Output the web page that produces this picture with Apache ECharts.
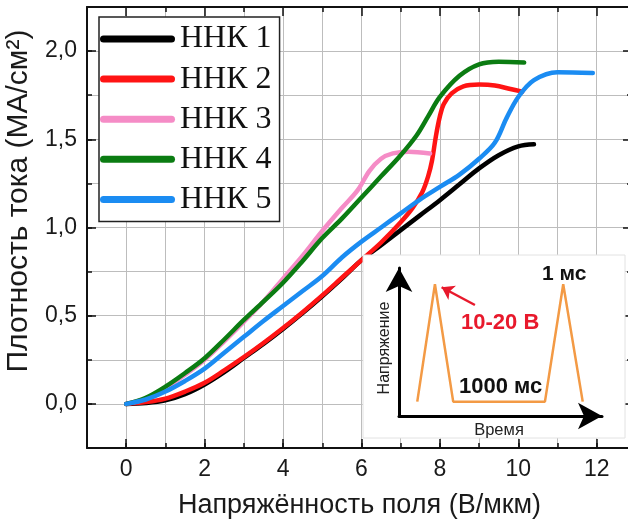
<!DOCTYPE html>
<html>
<head>
<meta charset="utf-8">
<script src="https://cdn.jsdelivr.net/npm/echarts@6/dist/echarts.min.js"></script>
<style>
  html, body { margin: 0; padding: 0; background: #fff; }
  #main { width: 628px; height: 523px; }
</style>
</head>
<body>
<div id="main"></div>
<script>
// образцы и цвета
const names = ['ННК 1', 'ННК 2', 'ННК 3', 'ННК 4', 'ННК 5'];
const colors = ['#000000', '#ff1414', '#f58cc6', '#0b7c12', '#1b8cf2'];

// [напряжённость, плотность тока]
const nnk1 = [[0,0],[0.5,0.005],[1,0.02],[1.5,0.055],[2,0.11],[2.5,0.18],[3,0.26],[3.5,0.34],[4,0.425],[4.5,0.515],[5,0.61],[5.5,0.71],[6,0.815],[6.5,0.90],[7,0.985],[7.5,1.07],[8,1.155],[8.5,1.245],[9,1.335],[9.5,1.41],[10,1.46],[10.4,1.472]];
const nnk2 = [[0,0],[0.5,0.01],[1,0.03],[1.5,0.07],[2,0.12],[2.5,0.19],[3,0.265],[3.5,0.345],[4,0.43],[4.5,0.52],[5,0.615],[5.5,0.715],[6,0.815],[6.5,0.915],[7,1.03],[7.3,1.11],[7.55,1.20],[7.7,1.29],[7.8,1.38],[7.9,1.52],[8,1.63],[8.1,1.70],[8.3,1.76],[8.6,1.80],[9,1.81],[9.4,1.805],[9.8,1.785],[10.1,1.77]];
const nnk3 = [[0,0],[0.5,0.03],[1,0.09],[1.5,0.165],[2,0.25],[2.5,0.355],[3,0.465],[3.5,0.58],[4,0.71],[4.5,0.84],[5,0.98],[5.5,1.11],[5.9,1.21],[6.2,1.32],[6.5,1.39],[6.8,1.42],[7.2,1.43],[7.75,1.42]];
const nnk4 = [[0,0],[0.5,0.035],[1,0.098],[1.5,0.175],[2,0.259],[2.5,0.365],[3,0.476],[3.5,0.58],[4,0.687],[4.5,0.81],[5,0.94],[5.5,1.05],[6,1.17],[6.5,1.29],[7,1.41],[7.4,1.52],[7.7,1.63],[8,1.74],[8.5,1.86],[9,1.925],[9.5,1.94],[10.15,1.935]];
const nnk5 = [[0,0],[0.5,0.025],[1,0.07],[1.5,0.13],[2,0.20],[2.5,0.29],[3,0.38],[3.5,0.47],[4,0.555],[4.5,0.64],[5,0.725],[5.5,0.83],[6,0.92],[6.5,1.00],[7,1.08],[7.5,1.16],[8,1.23],[8.5,1.30],[9,1.39],[9.4,1.48],[9.7,1.62],[10,1.74],[10.4,1.835],[11,1.88],[11.9,1.876]];
const allData = [nnk1, nnk2, nnk3, nnk4, nnk5];

// метки осей
const xMajor = [0, 2, 4, 6, 8, 10, 12];
const yMajor = [0, 0.5, 1, 1.5, 2];

// вставка: форма импульса (условные единицы)
const pulse = [[0.90,0.97],[1.77,8.90],[2.67,0.97],[7.19,0.97],[8.09,8.90],[9.05,0.97]];
const pulseArrow = [[3.74,7.50],[2.10,8.70]];

const font = '"Liberation Sans", Arial, sans-serif';
const gridColor = '#bdbdbd';

const chart = echarts.init(document.getElementById('main'));

// одна ось основного графика (мелкие или крупные засечки)
function mainAxis(kind, pos, major, extra) {
    const isX = kind === 'x';
    const base = {
        type: 'value',
        gridIndex: 0,
        position: pos,
        min: isX ? -1 : -0.25,
        max: isX ? 12.9 : 2.25,
        interval: isX ? 1 : 0.25,
        axisLine: { show: !major, onZero: false, lineStyle: { color: '#111', width: 2 } },
        axisTick: { show: true, inside: true, length: major ? 9 : 5, lineStyle: { color: '#111', width: 1.5 } },
        axisLabel: { show: false },
        splitLine: { show: false },
        z: 3
    };
    if (major) {
        base.axisTick.customValues = isX ? xMajor : yMajor;
    }
    return Object.assign(base, extra || {});
}

const isMajor = (list, v) => list.some(m => Math.abs(m - v) < 1e-6);

// оси вставки со стрелками
function insetAxis() {
    return {
        type: 'value', gridIndex: 1, min: 0, max: 10,
        axisLine: { show: true, symbol: ['none', 'arrow'], symbolSize: [20, 24], lineStyle: { color: '#000', width: 3 } },
        axisTick: { show: false }, axisLabel: { show: false }, splitLine: { show: false },
        z: 6
    };
}

const option = {
    backgroundColor: '#fff',
    animation: false,
    grid: [
        { left: 87, right: -4, top: 7, bottom: 75, outerBoundsMode: 'none' },
        { left: 399, right: 26, top: 268, bottom: 107, outerBoundsMode: 'none' }
    ],
    legend: {
        data: names,
        orient: 'vertical',
        left: 99,
        top: 17,
        padding: [6, 8, 6, 1],
        itemGap: 8.1,
        itemWidth: 75,
        itemHeight: 7,
        icon: 'path://M3.5,0 H71.5 A3.5,3.5 0 0 1 71.5,7 H3.5 A3.5,3.5 0 0 1 3.5,0 Z',
        backgroundColor: '#fff',
        borderColor: '#222',
        borderWidth: 1.5,
        borderRadius: 0,
        textStyle: { fontFamily: '"Liberation Serif", "Times New Roman", serif', fontSize: 32, lineHeight: 31, color: '#111' }
    },
    xAxis: [
        mainAxis('x', 'bottom', false, {
            name: 'Напряжённость поля (В/мкм)',
            nameLocation: 'middle',
            nameGap: 44,
            nameTextStyle: { fontFamily: font, fontSize: 27, color: '#1a1a1a' },
            axisLabel: {
                show: true, margin: 10, fontFamily: font, fontSize: 23, color: '#1a1a1a',
                formatter: v => (v >= 0 && isMajor(xMajor, v)) ? String(v) : ''
            },
            splitLine: { show: true, lineStyle: { color: gridColor, width: 1 } },
            z: 1
        }),
        mainAxis('x', 'bottom', true),
        mainAxis('x', 'top', false),
        mainAxis('x', 'top', true),
        insetAxis()
    ],
    yAxis: [
        mainAxis('y', 'left', false, {
            name: 'Плотность тока (МА/см²)',
            nameLocation: 'middle',
            nameGap: 40,
            nameTextStyle: { fontFamily: font, fontSize: 30, color: '#1a1a1a', padding: [0, 0, 0, 53] },
            axisLabel: {
                show: true, margin: 10, fontFamily: font, fontSize: 23, color: '#1a1a1a',
                formatter: v => (v >= 0 && isMajor(yMajor, v)) ? v.toFixed(1).replace('.', ',') : ''
            },
            splitLine: { show: true, lineStyle: { color: gridColor, width: 1 } },
            z: 1
        }),
        mainAxis('y', 'left', true),
        mainAxis('y', 'right', false),
        mainAxis('y', 'right', true),
        insetAxis()
    ],
    graphic: [
        // фон вставки
        { type: 'rect', z: 4, shape: { x: 363, y: 255, width: 262, height: 183 },
          style: { fill: '#fff', stroke: '#e2e2e2', lineWidth: 1 } },
        { type: 'text', z: 8, x: 542, y: 274,
          style: { text: '1 мс', fontFamily: font, fontWeight: 'bold', fontSize: 21, fill: '#111', verticalAlign: 'middle' } },
        { type: 'text', z: 8, x: 461, y: 323,
          style: { text: '10-20 В', fontFamily: font, fontWeight: 'bold', fontSize: 22, fill: '#e8192c', verticalAlign: 'middle' } },
        { type: 'text', z: 8, x: 459, y: 387,
          style: { text: '1000 мс', fontFamily: font, fontWeight: 'bold', fontSize: 22, fill: '#111', verticalAlign: 'middle' } },
        { type: 'text', z: 8, x: 385, y: 348, rotation: Math.PI / 2,
          style: { text: 'Напряжение', fontFamily: font, fontSize: 16, fill: '#222', align: 'center', verticalAlign: 'middle' } },
        { type: 'text', z: 8, x: 499, y: 430,
          style: { text: 'Время', fontFamily: font, fontSize: 16.5, fill: '#222', align: 'center', verticalAlign: 'middle' } }
    ],
    series: allData.map((d, i) => ({
        name: names[i],
        type: 'line',
        xAxisIndex: 0,
        yAxisIndex: 0,
        data: d,
        smooth: 0.35,
        showSymbol: false,
        color: colors[i],
        lineStyle: { color: colors[i], width: 4.5, cap: 'round', join: 'round' },
        z: 2 + i * 0.01
    })).concat([{
        name: 'pulse',
        type: 'line',
        xAxisIndex: 4,
        yAxisIndex: 4,
        data: pulse,
        showSymbol: false,
        lineStyle: { color: '#f39a45', width: 2.5 },
        z: 7,
        markLine: {
            silent: true,
            symbol: ['none', 'arrow'],
            symbolSize: 12,
            label: { show: false },
            lineStyle: { color: '#e8192c', width: 2.5, type: 'solid' },
            data: [[{ coord: pulseArrow[0] }, { coord: pulseArrow[1] }]]
        }
    }])
};

chart.setOption(option);
</script>
</body>
</html>
